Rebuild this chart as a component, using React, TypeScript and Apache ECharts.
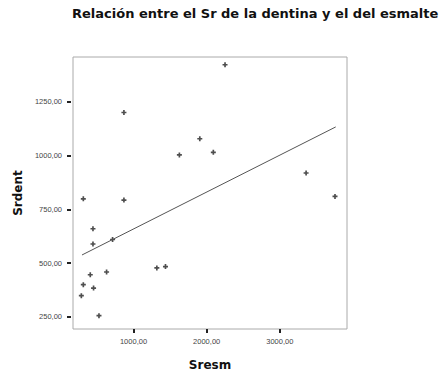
import React, { useEffect, useRef } from "react";
import * as echarts from "echarts";

const sresm = [2251, 869, 1627, 1906, 2091, 3359, 3754, 314, 869, 446, 446, 714, 1319, 1437, 632, 409, 314, 454, 287, 528];
const srdent = [1422, 1200, 1003, 1078, 1015, 919, 810, 799, 793, 660, 589, 610, 478, 484, 459, 446, 400, 384, 349, 256];
const fitX = [296, 3764];
const fitY = [538, 1133];
const xTicks = [1000, 2000, 3000];
const yTicks = [250, 500, 750, 1000, 1250];

const fmt = (v: number) => v.toFixed(2).replace(".", ",");
const FONT = "Liberation Sans, Arial, sans-serif";
const BOLD = "DejaVu Sans, sans-serif";

export default function App() {
  const ref = useRef<HTMLDivElement>(null);
  useEffect(() => {
    if (!ref.current) return;
    const chart = echarts.init(ref.current, null, { renderer: "svg" });
    chart.setOption({
      animation: false,
      backgroundColor: "#ffffff",
      title: {
        text: "Relación entre el Sr de la dentina y el del esmalte",
        left: 72,
        top: 7,
        padding: 0,
        textStyle: { fontFamily: BOLD, fontSize: 13, fontWeight: "bold", color: "#111" },
      },
      grid: {
        left: 73,
        right: 99,
        top: 57,
        bottom: 43,
        show: true,
        borderColor: "#aaaaaa",
        borderWidth: 1,
        backgroundColor: "#ffffff",
      },
      xAxis: {
        type: "value",
        min: 173,
        max: 3918,
        name: "Sresm",
        nameLocation: "middle",
        nameGap: 30,
        nameTextStyle: { fontFamily: BOLD, fontSize: 12, fontWeight: "bold", color: "#111" },
        axisLine: { show: false },
        splitLine: { show: false },
        axisTick: { show: true, length: 4, lineStyle: { color: "#222", width: 2 }, customValues: xTicks },
        axisLabel: {
          customValues: xTicks,
          formatter: (v: number) => fmt(v),
          fontFamily: FONT,
          fontSize: 7.5,
          color: "#444",
          margin: 8,
        },
      },
      yAxis: {
        type: "value",
        min: 194,
        max: 1458,
        offset: 2,
        name: "Srdent",
        nameLocation: "middle",
        nameGap: 46,
        nameRotate: 90,
        nameTextStyle: { fontFamily: BOLD, fontSize: 12, fontWeight: "bold", color: "#111" },
        axisLine: { show: false },
        splitLine: { show: false },
        axisTick: { show: true, length: 4, lineStyle: { color: "#222", width: 2 }, customValues: yTicks },
        axisLabel: {
          customValues: yTicks,
          formatter: (v: number) => fmt(v),
          fontFamily: FONT,
          fontSize: 7.5,
          color: "#444",
          margin: 9,
        },
      },
      series: [
        {
          type: "line",
          data: fitX.map((x, i) => [x, fitY[i]]),
          symbol: "none",
          lineStyle: { color: "#555", width: 1 },
          silent: true,
        },
        {
          type: "scatter",
          data: sresm.map((x, i) => [x, srdent[i]]),
          symbol: "path://M2,0H4V2H6V4H4V6H2V4H0V2H2Z",
          symbolSize: 5,
          itemStyle: { color: "#222" },
        },
      ],
    });
    return () => chart.dispose();
  }, []);
  return <div ref={ref} style={{ position: "fixed", left: 0, top: 0, width: 446, height: 376 }} />;
}
